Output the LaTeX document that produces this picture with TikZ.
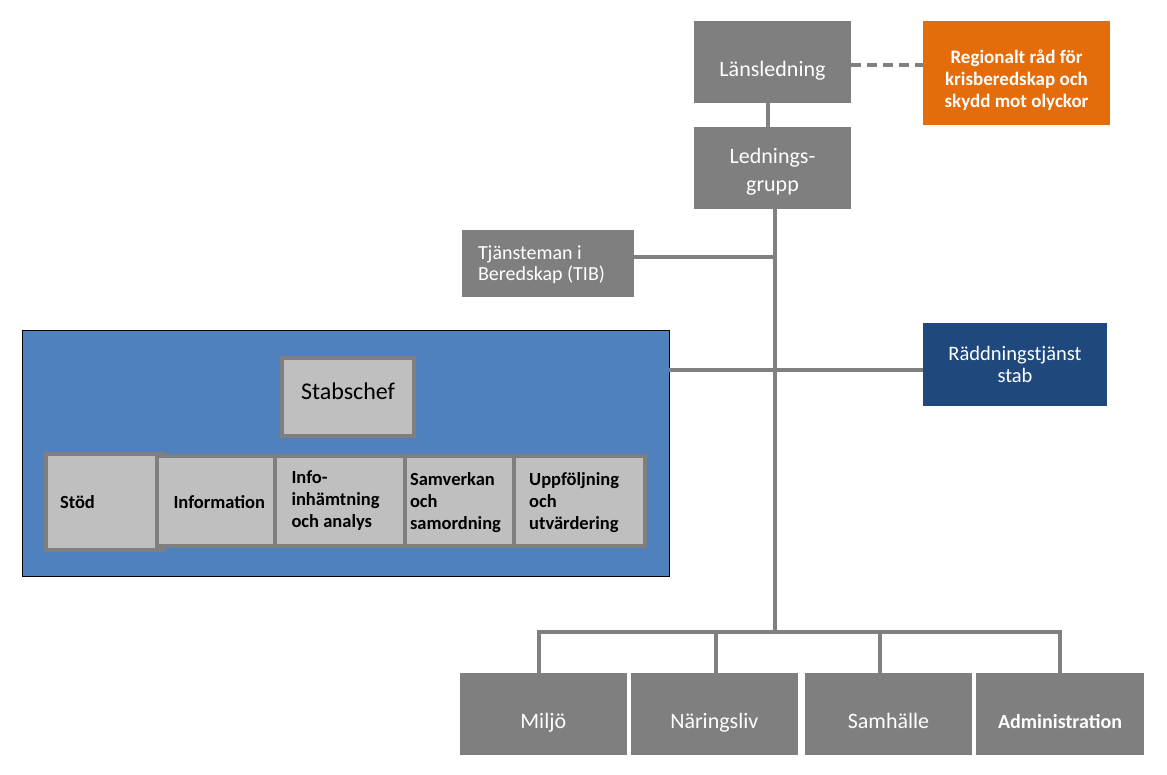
\documentclass[tikz,border=0pt]{standalone}
\usepackage{fontspec}
\setmainfont{Carlito}
\usepackage{tikz}
\definecolor{box gray}{RGB}{127,127,127}
\definecolor{line gray}{RGB}{128,128,128}
\definecolor{cell gray}{RGB}{191,191,191}
\definecolor{staff blue}{RGB}{79,129,189}
\definecolor{council orange}{RGB}{228,108,10}
\definecolor{rescue blue}{RGB}{31,73,125}
\newcommand{\topgap}[1]{\rule{0pt}{#1}}

\begin{document}
\begin{tikzpicture}[x = 1pt, y = -1pt,
		unit/.style = {fill = box gray, text = white, inner sep = 0, align = center,
			font = \fontsize{22}{28}\selectfont},
		cell/.style = {fill = cell gray, draw = box gray, line width = 4, minimum height = 90,
			inner ysep = 0, align = flush left, font = \bfseries\fontsize{18.5}{22}\selectfont},
		link/.style = {draw = line gray, line width = 4}]
			\useasboundingbox (0, 0) rectangle (1167, 774);
			% top of the chain
			\node[unit, minimum width = 157, minimum height = 82, text height = 33, text depth = 4.5]
				(lans) at (772.5, 62) {Länsledning};
			\node[unit, fill = council orange, minimum width = 187, minimum height = 104,
				font = \bfseries\fontsize{19}{22}\selectfont] (rad) at (1016.5, 73)
				{\topgap{28pt}Regionalt råd för\\krisberedskap och\\skydd mot olyckor};
			\node[unit, minimum width = 157, minimum height = 82] (grupp) at (772.5, 168)
				{\topgap{23.4pt}Lednings-\\grupp};
			\node[unit, minimum width = 172, minimum height = 67, align = flush left, text width = 140,
				inner xsep = 16, font = \fontsize{20}{21}\selectfont] (tib) at (548, 263.5)
				{\topgap{16.6pt}Tjänsteman i\\Beredskap (TIB)};
			% part for the staff
			\node[draw = black, line width = 0.8, fill = staff blue, minimum width = 647,
				minimum height = 246, inner sep = 0] (staff) at (345.5, 453) {};
			\node[cell, minimum width = 132, minimum height = 78, align = center, text height = 17,
				text depth = 12, font = \fontsize{24}{29}\selectfont] (chef) at (348, 396.5) {Stabschef};
			\node[cell, minimum width = 117, minimum height = 96, text width = 89, inner xsep = 14,
				text height = 14, text depth = 1.4] (stod) at (104.5, 502) {Stöd};
			\node[cell, minimum width = 118, text width = 85, inner xsep = 16.5,
				text height = 17, text depth = 1.4] (info) at (216, 500.5) {Information};
			\node[cell, minimum width = 130, text width = 97, inner xsep = 16.5] (analys) at (340, 500.5)
				{Info-\\inhämtning\\och analys};
			\node[cell, minimum width = 108.7, text width = 98.7, inner xsep = 5] (samverkan) at (459.35, 500.5)
				{\topgap{16.7pt}Samverkan\\och\\samordning};
			\node[cell, minimum width = 131.6, text width = 100.6, inner xsep = 15.5] (uppfoljning) at (579.5, 500.5)
				{\topgap{16.7pt}Uppföljning\\och\\utvärdering};
			\node[unit, fill = rescue blue, minimum width = 184, minimum height = 83,
				font = \fontsize{20.5}{22.5}\selectfont] (raddning) at (1015, 364.5) {Räddningstjänst\\stab};
			% units at the bottom
			\begin{scope}[every node/.append style = {minimum height = 82, text height = 32, text depth = 4}]
				\node[unit, minimum width = 167] (miljo) at (543.3, 714.2) {Miljö};
				\node[unit, minimum width = 167] (naring) at (714.3, 714.2) {Näringsliv};
				\node[unit, minimum width = 167] (samhalle) at (888.5, 714.2) {Samhälle};
				\node[unit, minimum width = 168, font = \bfseries\fontsize{20}{24}\selectfont]
					(admin) at (1060, 714.2) {Administration};
			\end{scope}
			% connectors
			\coordinate (dash start) at ([yshift = -3]lans.east);
			\coordinate (cross) at (775, 370);
			\coordinate (fork) at (775, 632);
			\draw[link, dash pattern = on 10 off 6] (dash start) -- (dash start -| rad.west);
			\draw[link] ([xshift = -5]lans.south) -- ([xshift = -5]grupp.north);
			\draw[link] ([xshift = 2.5]grupp.south) -- (fork);
			\draw[link] ([yshift = 6.5]tib.east) -- ([yshift = 6.5]tib.east -| fork);
			\draw[link] (staff.east |- cross) -- (raddning.west |- cross);
			\draw[link] ([xshift = -4]miljo.north) |- (fork) -| ([xshift = -0.5]admin.north);
			\draw[link] ([xshift = 1.7]naring.north) -- ([xshift = 1.7]naring.north |- fork);
			\draw[link] ([xshift = -8.5]samhalle.north) -- ([xshift = -8.5]samhalle.north |- fork);
		\end{tikzpicture}
\end{document}
